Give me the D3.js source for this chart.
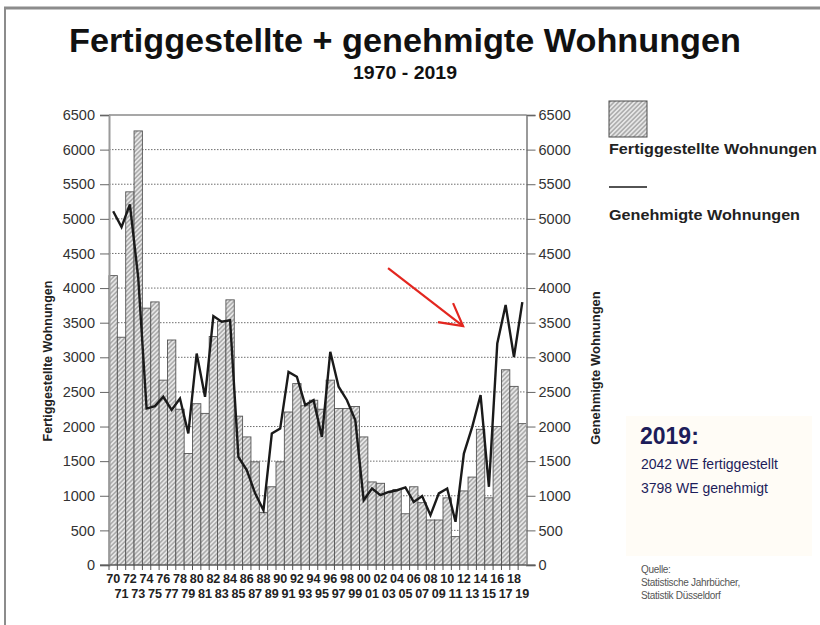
<!DOCTYPE html>
<html>
<head>
<meta charset="utf-8">
<script src="https://cdn.jsdelivr.net/npm/d3@7"></script>
<style>
  body { margin: 0; background: #fff; }
  svg { display: block; font-family: "Liberation Sans", Arial, sans-serif; }
</style>
</head>
<body>
<div id="grafico"></div>
<script>
// 1. Daten
JAHRE = [1970,1971,1972,1973,1974,1975,1976,1977,1978,1979,
         1980,1981,1982,1983,1984,1985,1986,1987,1988,1989,
         1990,1991,1992,1993,1994,1995,1996,1997,1998,1999,
         2000,2001,2002,2003,2004,2005,2006,2007,2008,2009,
         2010,2011,2012,2013,2014,2015,2016,2017,2018,2019]

FERTIG = [4180,3290,5390,6270,3710,3800,2670,3250,2250,1610,
          2330,2190,3300,3520,3830,2150,1850,1490,760,1130,
          1490,2210,2620,2300,2380,2250,2670,2260,2260,2290,
          1850,1200,1180,1050,1090,740,1130,900,650,650,
          970,410,1070,1270,1960,970,2000,2820,2580,2042]

GENEHM = [5110,4880,5210,4150,2260,2295,2430,2240,2405,1900,
          3055,2430,3595,3515,3535,1560,1370,1035,790,1900,
          1970,2790,2720,2310,2380,1850,3080,2575,2380,2090,
          935,1105,1010,1055,1080,1120,910,995,720,1035,
          1105,625,1610,1995,2455,1130,3200,3755,3005,3798]

Y_TICKS = [0,500,1000,1500,2000,2500,3000,3500,4000,4500,5000,5500,6000,6500]

TITEL      = 'Fertiggestellte + genehmigte Wohnungen'
UNTERTITEL = '1970 - 2019'
INFO       = ['2042 WE fertiggestellt', '3798 WE genehmigt']
QUELLE     = ['Quelle:', 'Statistische Jahrbücher,', 'Statistik Düsseldorf']

// 2. Konfiguration
ANCHO = 820
ALTO  = 625
COLOR_TEXTO = '#333'
COLOR_NAVY  = '#1d1d5a'
COLOR_ROJO  = '#e3261f'

margins = { left: 109, right: 526.5, top: 115, bottom: 565 }

svg = d3.select('#grafico').append('svg')
  .attr('width', ANCHO).attr('height', ALTO)

defs = svg.append('defs')
pat = defs.append('pattern')
  .attr('id', 'schraffur')
  .attr('patternUnits', 'userSpaceOnUse')
  .attr('width', 3.2).attr('height', 3.2)
  .attr('patternTransform', 'rotate(45)')
pat.append('rect').attr('width', 3.2).attr('height', 3.2).attr('fill', '#e6e6e6')
pat.append('line').attr('x1', 0.8).attr('y1', 0).attr('x2', 0.8).attr('y2', 3.2)
  .attr('stroke', '#9a9a9a').attr('stroke-width', 1.2)

fx = d3.scaleBand().domain(JAHRE).range([margins.left, margins.right]).padding(0)
fy = d3.scaleLinear().domain([0, 6500]).range([margins.bottom, margins.top])

// Rahmen (Fensterrand)
svg.append('line').attr('x1', 4).attr('x2', ANCHO).attr('y1', 8).attr('y2', 8)
  .attr('stroke', '#8c8c8c').attr('stroke-width', 3)
svg.append('line').attr('x1', 5).attr('x2', 5).attr('y1', 8).attr('y2', ALTO)
  .attr('stroke', '#8c8c8c').attr('stroke-width', 2)

// Titel
svg.append('text').attr('x', 405).attr('y', 52)
  .attr('text-anchor', 'middle').attr('font-weight', 'bold').attr('font-size', 34)
  .attr('textLength', 672).attr('lengthAdjust', 'spacingAndGlyphs')
  .attr('fill', '#111').text(TITEL)
svg.append('text').attr('x', 405).attr('y', 79)
  .attr('text-anchor', 'middle').attr('font-weight', 'bold').attr('font-size', 19)
  .attr('textLength', 104).attr('lengthAdjust', 'spacingAndGlyphs')
  .attr('fill', '#111').text(UNTERTITEL)

// Gitter
svg.append('g').selectAll('line').data(Y_TICKS.filter(d => d > 0 && d < 6500))
  .enter().append('line')
  .attr('x1', margins.left).attr('x2', margins.right)
  .attr('y1', d => fy(d)).attr('y2', d => fy(d))
  .attr('stroke', '#6e6e6e').attr('stroke-width', 1).attr('stroke-dasharray', '1.5,1.5')
svg.append('line').attr('x1', margins.left).attr('x2', margins.right)
  .attr('y1', fy(6500)).attr('y2', fy(6500)).attr('stroke', '#8a8a8a').attr('stroke-width', 1.5)

// Balken
svg.append('g').selectAll('rect').data(FERTIG)
  .enter().append('rect')
  .attr('x', (d, i) => fx(JAHRE[i]))
  .attr('y', d => fy(d))
  .attr('width', fx.bandwidth())
  .attr('height', d => fy(0) - fy(d))
  .attr('fill', 'url(#schraffur)')
  .attr('stroke', '#555').attr('stroke-width', 0.9)

// Linie
linie = d3.line().x((d, i) => fx(JAHRE[i]) + fx.bandwidth() / 2).y(d => fy(d))
svg.append('path').datum(GENEHM)
  .attr('d', linie).attr('fill', 'none')
  .attr('stroke', '#1a1a1a').attr('stroke-width', 2.4).attr('stroke-linejoin', 'miter')

// Achsen
fmt = d3.format('d')
ejeL = svg.append('g').attr('transform', `translate(${margins.left},0)`)
  .call(d3.axisLeft(fy).tickValues(Y_TICKS).tickFormat(fmt).tickSize(9).tickPadding(5))
ejeR = svg.append('g').attr('transform', `translate(${margins.right},0)`)
  .call(d3.axisRight(fy).tickValues(Y_TICKS).tickFormat(fmt).tickSize(9).tickPadding(3))
;[ejeL, ejeR].forEach(e => {
  e.select('.domain').attr('stroke', '#9a9a9a').attr('stroke-width', 2)
  e.selectAll('.tick line').attr('stroke', '#666')
  e.selectAll('.tick text').attr('font-size', 14.5).attr('fill', COLOR_TEXTO)
    .attr('font-family', '"Liberation Sans", Arial, sans-serif')
})

svg.append('line').attr('x1', margins.left - 9).attr('x2', margins.right + 9)
  .attr('y1', fy(0)).attr('y2', fy(0)).attr('stroke', '#555').attr('stroke-width', 1.2)

// x-Beschriftung in zwei Reihen
ejeX = svg.append('g')
ejeX.selectAll('line').data(JAHRE)
  .enter().append('line')
  .attr('x1', d => fx(d)).attr('x2', d => fx(d))
  .attr('y1', fy(0)).attr('y2', fy(0) + 5)
  .attr('stroke', '#555')
ejeX.selectAll('text').data(JAHRE)
  .enter().append('text')
  .attr('x', d => fx(d) + fx.bandwidth() / 2)
  .attr('y', d => d % 2 == 0 ? 583 : 598)
  .attr('text-anchor', 'middle').attr('font-weight', 'bold').attr('font-size', 12.5)
  .attr('textLength', 14).attr('lengthAdjust', 'spacingAndGlyphs')
  .attr('fill', '#222')
  .text(d => String(d).slice(2))

// Achsentitel
svg.append('text').attr('transform', 'translate(52,361) rotate(-90)')
  .attr('text-anchor', 'middle').attr('font-weight', 'bold').attr('font-size', 12.5)
  .attr('fill', '#222').text('Fertiggestellte Wohnungen')
svg.append('text').attr('transform', 'translate(600,368) rotate(-90)')
  .attr('text-anchor', 'middle').attr('font-weight', 'bold').attr('font-size', 13)
  .attr('fill', '#222').text('Genehmigte Wohnungen')

// Legende
leg = svg.append('g')
leg.append('rect').attr('x', 609).attr('y', 101).attr('width', 38).attr('height', 36)
  .attr('fill', 'url(#schraffur)').attr('stroke', '#4a4a4a')
leg.append('text').attr('x', 609).attr('y', 154).attr('font-weight', 'bold').attr('font-size', 14)
  .attr('textLength', 208).attr('lengthAdjust', 'spacingAndGlyphs')
  .attr('fill', '#222').text('Fertiggestellte Wohnungen')
leg.append('line').attr('x1', 609).attr('x2', 647).attr('y1', 187).attr('y2', 187)
  .attr('stroke', '#1a1a1a').attr('stroke-width', 1.5)
leg.append('text').attr('x', 609).attr('y', 220).attr('font-weight', 'bold').attr('font-size', 14)
  .attr('textLength', 191).attr('lengthAdjust', 'spacingAndGlyphs')
  .attr('fill', '#222').text('Genehmigte Wohnungen')

// Info-Kasten 2019
svg.append('rect').attr('x', 626).attr('y', 416).attr('width', 186).attr('height', 140)
  .attr('fill', '#fffcf6')
svg.append('text').attr('x', 640).attr('y', 444).attr('font-size', 23).attr('font-weight', 'bold')
  .attr('fill', COLOR_NAVY).text(JAHRE[JAHRE.length - 1] + ':')
svg.append('g').selectAll('text').data(INFO)
  .enter().append('text')
  .attr('x', 641).attr('y', (d, i) => 469 + i * 24)
  .attr('font-size', 14).attr('fill', COLOR_NAVY)
  .text(d => d)
svg.append('g').selectAll('text').data(QUELLE)
  .enter().append('text')
  .attr('x', 641).attr('y', (d, i) => 573 + i * 13)
  .attr('font-size', 10).attr('fill', '#555')
  .attr('letter-spacing', -0.3)
  .text(d => d)

// roter Pfeil
spitzeX = fx(2013) - 5
spitzeY = fy(3450)
pfeil = svg.append('g').attr('stroke', COLOR_ROJO).attr('stroke-width', 2.2).attr('fill', 'none')
pfeil.append('line').attr('x1', spitzeX - 75).attr('y1', spitzeY - 58).attr('x2', spitzeX).attr('y2', spitzeY)
pfeil.append('polyline')
  .attr('points', `${spitzeX - 25},${spitzeY - 4} ${spitzeX},${spitzeY} ${spitzeX - 10},${spitzeY - 23}`)
</script>
</body>
</html>
